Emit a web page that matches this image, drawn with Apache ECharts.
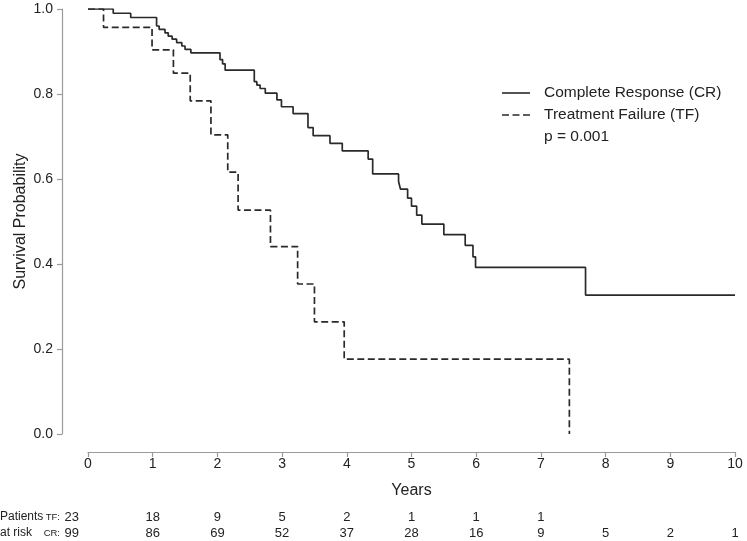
<!DOCTYPE html>
<html>
<head>
<meta charset="utf-8">
<script src="https://cdn.jsdelivr.net/npm/echarts@6/dist/echarts.min.js"></script>
<style>
html,body{margin:0;padding:0;background:#fff;}
#chart{width:747px;height:541px;}
</style>
</head>
<body>
<div id="chart"></div>
<script>
// ---- data ----
var yearTicks = [0,1,2,3,4,5,6,7,8,9,10];
var crSurvival = [
  [0,1.0],[0.39,0.990],[0.66,0.980],[1.06,0.960],[1.10,0.952],[1.19,0.944],
  [1.24,0.936],[1.30,0.929],[1.37,0.921],[1.45,0.913],[1.50,0.905],[1.59,0.897],
  [2.04,0.881],[2.08,0.871],[2.12,0.856],[2.57,0.829],[2.61,0.821],[2.66,0.813],
  [2.74,0.802],[2.92,0.786],[2.99,0.770],[3.17,0.754],[3.40,0.721],[3.48,0.702],
  [3.74,0.684],[3.93,0.666],[4.33,0.647],[4.40,0.612],[4.80,0.594],[4.83,0.576],
  [4.94,0.555],[5.00,0.536],[5.08,0.515],[5.16,0.494],[5.50,0.469],[5.83,0.444],
  [5.95,0.417],[5.99,0.392],[7.69,0.327],[10,0.327]
];
var tfSurvival = [
  [0,1.0],[0.24,0.957],[0.99,0.904],[1.32,0.849],[1.58,0.784],[1.90,0.704],
  [2.16,0.616],[2.32,0.527],[2.82,0.441],[3.24,0.353],[3.50,0.264],[3.96,0.176],
  [7.44,0.0]
];
var tfAtRisk = [23,18,9,5,2,1,1,1];
var crAtRisk = [99,86,69,52,37,28,16,9,5,2,1];
var seriesNames = ['Complete Response (CR)','Treatment Failure (TF)'];
var pText = 'p = 0.001';

var FONT = 'Liberation Sans, Arial, Helvetica, sans-serif';
var chart = echarts.init(document.getElementById('chart'));
var axisGray = '#9a9a9a';
var ink = '#222';
var lineInk = '#2a2a2a';
var dashPattern = [7,3.5];

chart.setOption({
  animation:false,
  backgroundColor:'#fff',
  grid:{left:88,right:12,top:9,bottom:107},
  xAxis:{
    type:'value',min:0,max:10,interval:1,offset:18,
    name:'Years',nameLocation:'middle',nameGap:31,nameMoveOverlap:false,
    nameTextStyle:{fontFamily:FONT,fontSize:16,color:ink},
    axisLine:{show:true,onZero:false,lineStyle:{color:axisGray,width:1.2}},
    axisTick:{show:true,length:5,lineStyle:{color:axisGray,width:1.2}},
    axisLabel:{fontFamily:FONT,fontSize:14,color:ink,margin:5},
    splitLine:{show:false}
  },
  yAxis:{
    type:'value',min:0,max:1,interval:0.2,offset:26,
    name:'Survival Probability',nameLocation:'middle',nameGap:33,nameMoveOverlap:false,
    nameTextStyle:{fontFamily:FONT,fontSize:16,color:ink},
    axisLine:{show:true,onZero:false,lineStyle:{color:axisGray,width:1.2}},
    axisTick:{show:true,length:5,lineStyle:{color:axisGray,width:1.2}},
    axisLabel:{fontFamily:FONT,fontSize:14,color:ink,margin:9,
      formatter:function(v){return v.toFixed(1);}},
    splitLine:{show:false}
  },
  series:[
    {name:seriesNames[0],type:'line',step:'end',data:crSurvival,symbol:'none',
     lineStyle:{color:lineInk,width:1.7,type:'solid'}},
    {name:seriesNames[1],type:'line',step:'end',data:tfSurvival,symbol:'none',
     lineStyle:{color:lineInk,width:1.7,type:dashPattern}}
  ]
});

// legend, p-value and risk table text placed with the axis scale
var g = [];
var legY = [93,115];
for (var k=0;k<2;k++){
  g.push({type:'line',shape:{x1:502,y1:legY[k],x2:530,y2:legY[k]},
    style:{stroke:lineInk,lineWidth:1.6,lineDash:(k===0?null:dashPattern)}});
  g.push({type:'text',x:544,y:legY[k],style:{text:seriesNames[k],fontFamily:FONT,fontSize:15.5,fill:ink,
    textAlign:'left',textVerticalAlign:'middle'}});
}
g.push({type:'text',x:544,y:137,style:{text:pText,fontFamily:FONT,fontSize:15.5,fill:ink,textAlign:'left',textVerticalAlign:'middle'}});

var yTF = 517, yCR = 533;
for (var i=0;i<tfAtRisk.length;i++){
  var px = chart.convertToPixel({xAxisIndex:0}, yearTicks[i]);
  g.push({type:'text',x:(i===0?px-9:px),y:yTF,style:{text:String(tfAtRisk[i]),fontFamily:FONT,fontSize:13,fill:ink,
    textAlign:(i===0?'right':'center'),textVerticalAlign:'middle'}});
}
for (var j=0;j<crAtRisk.length;j++){
  var px2 = chart.convertToPixel({xAxisIndex:0}, yearTicks[j]);
  g.push({type:'text',x:(j===0?px2-9:px2),y:yCR,style:{text:String(crAtRisk[j]),fontFamily:FONT,fontSize:13,fill:ink,
    textAlign:(j===0?'right':'center'),textVerticalAlign:'middle'}});
}
g.push({type:'text',x:0,y:yTF,style:{text:'Patients',fontFamily:FONT,fontSize:12,fill:ink,textAlign:'left',textVerticalAlign:'middle'}});
g.push({type:'text',x:0,y:yCR,style:{text:'at risk',fontFamily:FONT,fontSize:12,fill:ink,textAlign:'left',textVerticalAlign:'middle'}});
var px0 = chart.convertToPixel({xAxisIndex:0}, 0);
g.push({type:'text',x:px0-28,y:yTF,style:{text:'TF:',fontFamily:FONT,fontSize:9.5,fill:ink,textAlign:'right',textVerticalAlign:'middle'}});
g.push({type:'text',x:px0-28,y:yCR,style:{text:'CR:',fontFamily:FONT,fontSize:9.5,fill:ink,textAlign:'right',textVerticalAlign:'middle'}});
chart.setOption({graphic:g});
</script>
</body>
</html>
